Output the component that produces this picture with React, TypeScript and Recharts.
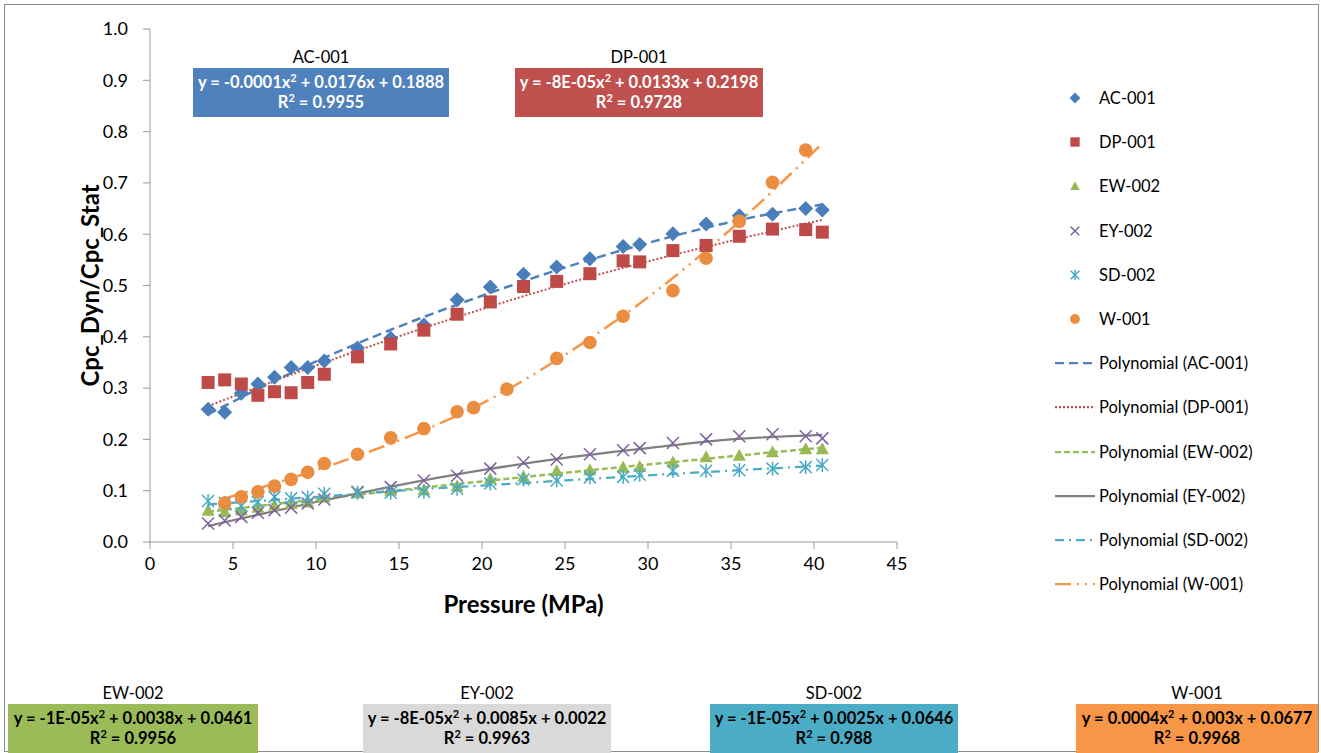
import { ComposedChart, Scatter, Line, XAxis, YAxis } from "recharts";

// pressure (MPa) for the five wells sampled on the same steps
const pressure = [3.5, 4.5, 5.5, 6.5, 7.5, 8.5, 9.5, 10.5, 12.5, 14.5, 16.5, 18.5, 20.5, 22.5, 24.5, 26.5, 28.5, 29.5, 31.5, 33.5, 35.5, 37.5, 39.5, 40.5];
const ac001 = [0.259, 0.253, 0.29, 0.308, 0.321, 0.34, 0.34, 0.353, 0.378, 0.397, 0.423, 0.472, 0.497, 0.522, 0.536, 0.552, 0.576, 0.58, 0.601, 0.62, 0.636, 0.639, 0.65, 0.647];
const dp001 = [0.311, 0.316, 0.308, 0.286, 0.293, 0.291, 0.311, 0.327, 0.361, 0.386, 0.413, 0.444, 0.468, 0.498, 0.508, 0.523, 0.548, 0.546, 0.568, 0.578, 0.596, 0.61, 0.609, 0.604];
const ew002 = [0.062, 0.059, 0.063, 0.068, 0.072, 0.075, 0.078, 0.088, 0.096, 0.101, 0.102, 0.109, 0.124, 0.128, 0.139, 0.141, 0.146, 0.147, 0.156, 0.166, 0.169, 0.176, 0.182, 0.182];
const ey002 = [0.036, 0.042, 0.049, 0.057, 0.062, 0.067, 0.075, 0.083, 0.098, 0.107, 0.12, 0.129, 0.143, 0.155, 0.161, 0.171, 0.179, 0.183, 0.193, 0.2, 0.206, 0.21, 0.206, 0.202];
const sd002 = [0.08, 0.076, 0.07, 0.078, 0.088, 0.085, 0.087, 0.094, 0.096, 0.096, 0.098, 0.104, 0.114, 0.122, 0.12, 0.126, 0.127, 0.131, 0.139, 0.139, 0.14, 0.143, 0.146, 0.15];

// W-001 has its own pressure steps
const w001Pressure = [4.5, 5.5, 6.5, 7.5, 8.5, 9.5, 10.5, 12.5, 14.5, 16.5, 18.5, 19.5, 21.5, 24.5, 26.5, 28.5, 31.5, 33.5, 35.5, 37.5, 39.5];
const w001 = [0.076, 0.088, 0.098, 0.109, 0.122, 0.136, 0.153, 0.171, 0.203, 0.221, 0.254, 0.262, 0.298, 0.358, 0.389, 0.44, 0.49, 0.553, 0.625, 0.701, 0.764];

// polynomial trendlines
const trendPressure = [3.5, 10, 15, 20, 25, 30, 35, 40.5];
const w001TrendPressure = [4.5, 10, 15, 20, 25, 30, 35, 40.5];
const ac001Trend = [0.249, 0.352, 0.42, 0.48, 0.535, 0.583, 0.624, 0.658];
const dp001Trend = [0.265, 0.344, 0.401, 0.454, 0.503, 0.547, 0.587, 0.628];
const ew002Trend = [0.059, 0.083, 0.101, 0.118, 0.135, 0.151, 0.167, 0.184];
const ey002Trend = [0.031, 0.078, 0.111, 0.14, 0.164, 0.183, 0.2, 0.209];
const sd002Trend = [0.073, 0.088, 0.1, 0.11, 0.12, 0.13, 0.139, 0.149];
const w001Trend = [0.085, 0.14, 0.198, 0.27, 0.365, 0.477, 0.61, 0.777];

const xTicks = [0, 5, 10, 15, 20, 25, 30, 35, 40, 45];
const yTicks = [0, 0.1, 0.2, 0.3, 0.4, 0.5, 0.6, 0.7, 0.8, 0.9, 1.0];

const FONT = "Lato, 'Open Sans', sans-serif";

const toPoints = (xs: number[], ys: number[]) => xs.map((x, i) => ({ x, y: ys[i] }));

type MarkerKind = "diamond" | "square" | "triangle" | "x" | "star" | "circle";

function Marker({ kind, cx, cy, color, s = 1 }: { kind: MarkerKind; cx: number; cy: number; color: string; s?: number }) {
  if (kind === "diamond") {
    const r = 7.5 * s;
    return <polygon points={`${cx},${cy - r} ${cx + r},${cy} ${cx},${cy + r} ${cx - r},${cy}`} fill={color} />;
  }
  if (kind === "square") {
    const r = 6.5 * s;
    return <rect x={cx - r} y={cy - r} width={2 * r} height={2 * r} fill={color} />;
  }
  if (kind === "triangle") {
    const r = 6.5 * s;
    return <polygon points={`${cx},${cy - r} ${cx + r},${cy + r * 0.85} ${cx - r},${cy + r * 0.85}`} fill={color} />;
  }
  if (kind === "circle") {
    return <circle cx={cx} cy={cy} r={6.8 * s} fill={color} />;
  }
  const r = 6 * s;
  return (
    <g stroke={color} strokeWidth={1.5}>
      <line x1={cx - r} y1={cy - r} x2={cx + r} y2={cy + r} />
      <line x1={cx - r} y1={cy + r} x2={cx + r} y2={cy - r} />
      {kind === "star" && <line x1={cx} y1={cy - r - 1} x2={cx} y2={cy + r + 1} />}
    </g>
  );
}

const series = [
  { name: "AC-001", kind: "diamond" as MarkerKind, color: "#4A7EBB", line: "#4F81BD", dash: "9 5", width: 2.5, pts: toPoints(pressure, ac001), trend: toPoints(trendPressure, ac001Trend) },
  { name: "DP-001", kind: "square" as MarkerKind, color: "#BE4B48", line: "#C0504D", dash: "2 2", width: 2, pts: toPoints(pressure, dp001), trend: toPoints(trendPressure, dp001Trend) },
  { name: "EW-002", kind: "triangle" as MarkerKind, color: "#98B954", line: "#9BBB59", dash: "6 3", width: 2.5, pts: toPoints(pressure, ew002), trend: toPoints(trendPressure, ew002Trend) },
  { name: "EY-002", kind: "x" as MarkerKind, color: "#7D60A0", line: "#808080", dash: undefined, width: 2.25, pts: toPoints(pressure, ey002), trend: toPoints(trendPressure, ey002Trend) },
  { name: "SD-002", kind: "star" as MarkerKind, color: "#46AAC5", line: "#4BACC6", dash: "9 5 2 5", width: 2.25, pts: toPoints(pressure, sd002), trend: toPoints(trendPressure, sd002Trend) },
  { name: "W-001", kind: "circle" as MarkerKind, color: "#EA8D40", line: "#F79646", dash: "16 6 2 6 2 6", width: 2.5, pts: toPoints(w001Pressure, w001), trend: toPoints(w001TrendPressure, w001Trend) },
];

const equations = [
  { name: "AC-001", eq: "y = -0.0001x", rest: " + 0.0176x + 0.1888", r2: "0.9955", bg: "#4F81BD", fg: "#fff", left: 193, top: 68, w: 256 },
  { name: "DP-001", eq: "y = -8E-05x", rest: " + 0.0133x + 0.2198", r2: "0.9728", bg: "#C0504D", fg: "#fff", left: 515, top: 68, w: 248 },
  { name: "EW-002", eq: "y = -1E-05x", rest: " + 0.0038x + 0.0461", r2: "0.9956", bg: "#9BBB59", fg: "#000", left: 8, top: 704, w: 250 },
  { name: "EY-002", eq: "y = -8E-05x", rest: " + 0.0085x + 0.0022", r2: "0.9963", bg: "#D9D9D9", fg: "#000", left: 363, top: 704, w: 248 },
  { name: "SD-002", eq: "y = -1E-05x", rest: " + 0.0025x + 0.0646", r2: "0.988", bg: "#4BACC6", fg: "#000", left: 710, top: 704, w: 248 },
  { name: "W-001", eq: "y = 0.0004x", rest: " + 0.003x + 0.0677", r2: "0.9968", bg: "#F79646", fg: "#000", left: 1076, top: 704, w: 242 },
];

function LegendBox() {
  return (
    <div style={{ position: "absolute", left: 1053, top: 76, fontFamily: FONT, fontSize: 16.5, color: "#000" }}>
      {series.map((s) => (
        <div key={s.name} style={{ display: "flex", alignItems: "center", height: 44.2 }}>
          <svg width={44} height={16} style={{ marginRight: 2 }}>
            <Marker kind={s.kind} cx={22} cy={8} color={s.color} s={0.72} />
          </svg>
          <span>{s.name}</span>
        </div>
      ))}
      {series.map((s) => (
        <div key={"p" + s.name} style={{ display: "flex", alignItems: "center", height: 44.2 }}>
          <svg width={44} height={16} style={{ marginRight: 2 }}>
            <line x1={2} y1={8} x2={42} y2={8} stroke={s.line} strokeWidth={2.25} strokeDasharray={s.dash} />
          </svg>
          <span>Polynomial ({s.name})</span>
        </div>
      ))}
    </div>
  );
}

export default function App() {
  return (
    <div style={{ position: "absolute", left: 0, top: 0, width: 1321, height: 753, background: "#fff", overflow: "hidden" }}>
      <div style={{ position: "absolute", left: 4, top: 4, width: 1313, height: 746, border: "1.5px solid #8c8c8c" }} />
      <ComposedChart width={1321} height={753} margin={{ top: 29, right: 424, bottom: 181, left: 90 }}>
        <XAxis
          type="number"
          dataKey="x"
          domain={[0, 45]}
          ticks={xTicks}
          tick={{ fill: "#000", fontSize: 18, fontFamily: FONT }}
          tickSize={7}
          tickMargin={8}
          height={30}
          stroke="#9a9a9a"
          label={{ value: "Pressure (MPa)", position: "bottom", offset: 24, style: { fontSize: 24, fontWeight: 700, fill: "#000", fontFamily: FONT } }}
        />
        <YAxis
          type="number"
          domain={[0, 1]}
          ticks={yTicks}
          tickFormatter={(v: number) => v.toFixed(1)}
          tick={{ fill: "#000", fontSize: 18, fontFamily: FONT }}
          tickSize={7}
          tickMargin={15}
          width={60}
          stroke="#9a9a9a"
          label={{ value: "Cpc_Dyn/Cpc_Stat", angle: -90, position: "left", offset: 0, style: { fontSize: 24, fontWeight: 700, fill: "#000", fontFamily: FONT, textAnchor: "middle" } }}
        />
        {series.map((s) => (
          <Scatter
            key={s.name}
            name={s.name}
            data={s.pts}
            dataKey="y"
            isAnimationActive={false}
            shape={(p: any) => <Marker kind={s.kind} cx={p.cx} cy={p.cy} color={s.color} />}
          />
        ))}
        {series.map((s) => (
          <Line
            key={"t" + s.name}
            data={s.trend}
            dataKey="y"
            type="monotone"
            stroke={s.line}
            strokeWidth={s.width}
            strokeDasharray={s.dash}
            dot={false}
            activeDot={false}
            isAnimationActive={false}
          />
        ))}
      </ComposedChart>
      <LegendBox />
      {equations.map((e) => (
        <div key={e.name} style={{ position: "absolute", left: e.left, top: e.top - 21, width: e.w, fontFamily: FONT, textAlign: "center" }}>
          <div style={{ fontSize: 16.5, color: "#000", height: 21, lineHeight: "21px" }}>{e.name}</div>
          <div style={{ background: e.bg, color: e.fg, fontWeight: 700, fontSize: 16.5, lineHeight: "20px", padding: "4px 0 5px", whiteSpace: "nowrap" }}>
            <div>
              {e.eq}
              <sup style={{ fontSize: 11, lineHeight: 0 }}>2</sup>
              {e.rest}
            </div>
            <div>
              R<sup style={{ fontSize: 11, lineHeight: 0 }}>2</sup> = {e.r2}
            </div>
          </div>
        </div>
      ))}
    </div>
  );
}
